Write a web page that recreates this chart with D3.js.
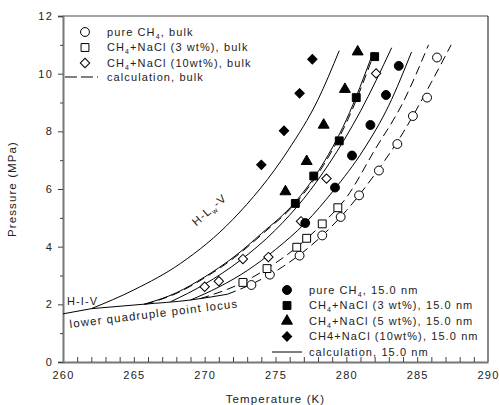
<!DOCTYPE html>
<html>
<head>
<meta charset="utf-8">
<script src="https://cdn.jsdelivr.net/npm/d3@7"></script>
<style>
  body { margin: 0; background: #fff; }
  svg { font-family: "Liberation Sans", Arial, sans-serif; }
  .tick text { font-size: 11px; letter-spacing: 1.2px; fill: #222; }
  .lbl { font-size: 11px; letter-spacing: 1.1px; fill: #222; }
</style>
</head>
<body>
<svg id="chart"></svg>
<script>
// axis ticks
const tempTicks = [260, 265, 270, 275, 280, 285, 290];
const presTicks = [0, 2, 4, 6, 8, 10, 12];

// measured points [T (K), P (MPa)]
const pureBulk = [[273.3, 2.67], [274.6, 3.03], [276.7, 3.69], [278.3, 4.39], [279.6, 5.03], [280.9, 5.78],
                  [282.3, 6.64], [283.6, 7.56], [284.7, 8.53], [285.7, 9.17], [286.4, 10.56]];
const nacl3Bulk = [[272.7, 2.76], [274.4, 3.24], [276.5, 3.98], [277.2, 4.29], [278.3, 4.79], [279.4, 5.35]];
const nacl10Bulk = [[270.0, 2.61], [271.0, 2.80], [272.7, 3.57], [274.5, 3.64], [276.8, 4.88], [278.6, 6.36], [282.1, 10.01]];
const pureNano = [[277.1, 4.82], [279.2, 6.05], [280.4, 7.16], [281.7, 8.22], [282.8, 9.26], [283.7, 10.27]];
const nacl3Nano = [[276.4, 5.50], [277.7, 6.45], [279.5, 7.67], [280.7, 9.17], [282.0, 10.59]];
const nacl5Nano = [[275.7, 5.91], [277.2, 6.96], [278.4, 8.22], [279.9, 9.46], [280.8, 10.76]];
const nacl10Nano = [[274.0, 6.84], [275.6, 8.02], [276.7, 9.32], [277.6, 10.50]];

// calculated curves, 15 nm (solid)
const calcNanoA = [[262.0, 1.85], [265.0, 2.5], [268.3, 3.42], [272.0, 4.95], [275.9, 7.35], [278.0, 9.1], [279.5, 10.8]];
const calcNanoB = [[265.7, 2.0], [268.0, 2.4], [270.0, 2.95], [272.0, 3.62], [274.0, 4.45], [276.4, 5.55], [278.0, 6.6], [280.0, 8.4], [281.9, 10.75]];
const calcNanoC = [[267.6, 2.09], [270.0, 2.7], [272.5, 3.52], [275.0, 4.58], [277.0, 5.67], [278.8, 6.89], [281.0, 8.7], [283.2, 10.9]];
const calcNanoD = [[269.0, 2.15], [271.0, 2.6], [273.0, 3.17], [275.0, 3.9], [277.1, 4.82], [279.1, 5.95], [281.2, 7.35], [283.0, 8.9], [284.6, 10.75]];
// calculated curves, bulk (dashed)
const calcBulk10 = [[265.8, 2.0], [268.1, 2.4], [270.1, 2.95], [272.1, 3.62], [274.1, 4.45], [276.5, 5.55], [278.1, 6.6], [280.1, 8.4], [282.0, 10.75]];
const calcBulk3 = [[269.7, 2.2], [272.7, 2.76], [274.4, 3.24], [276.5, 3.98], [278.3, 4.79], [280.0, 5.7], [282.0, 7.35], [284.0, 9.0], [285.8, 11.0]];
const calcBulkPure = [[271.6, 2.35], [273.4, 2.72], [275.5, 3.3], [278.0, 4.25], [280.0, 5.25], [282.0, 6.5], [284.0, 7.95], [286.0, 9.7], [287.4, 11.0]];
// phase boundaries
const hivLine = [[260.0, 1.67], [262.0, 1.85]];
const quadLocus = [[262.0, 1.85], [265.6, 2.0], [269.0, 2.15], [271.6, 2.35]];

const margin = { top: 16, right: 11, bottom: 43, left: 63 },
      width = 499 - margin.left - margin.right,
      height = 405 - margin.top - margin.bottom;

const svg = d3.select("#chart")
    .attr("width", 499)
    .attr("height", 405)
    .append("g")
    .attr("transform", `translate(${margin.left},${margin.top})`);

const x = d3.scaleLinear().domain([260, 290]).range([0, width]);
const y = d3.scaleLinear().domain([0, 12]).range([height, 0]);

// frame
svg.append("line").attr("x1", 0).attr("x2", width).attr("y1", 0).attr("y2", 0)
    .attr("stroke", "#888").attr("stroke-width", 1.5);
svg.append("line").attr("x1", width).attr("x2", width).attr("y1", 0).attr("y2", height)
    .attr("stroke", "#111").attr("stroke-width", 1);

// y axis
const yAxis = svg.append("g")
    .call(d3.axisLeft(y).tickValues(presTicks).tickSize(5).tickPadding(5));
svg.append("g")
    .call(d3.axisLeft(y).tickValues(d3.range(1, 12, 2)).tickSize(3).tickFormat(""))
    .select(".domain").remove();
yAxis.select(".domain").attr("stroke", "#777").attr("stroke-width", 2);

// x axis: labels below, ticks pointing inward
const xAxis = svg.append("g")
    .attr("transform", `translate(0,${height})`)
    .call(d3.axisBottom(x).tickValues(tempTicks).tickSize(0).tickPadding(9));
xAxis.select(".domain").attr("stroke", "#777").attr("stroke-width", 2);
svg.append("g")
    .attr("transform", `translate(0,${height})`)
    .call(d3.axisBottom(x).tickValues(d3.range(261, 290)).tickSize(-5).tickFormat(""))
    .select(".domain").remove();

svg.selectAll(".tick line").attr("stroke", "#444");

// axis titles
svg.append("text").attr("class", "lbl")
    .attr("x", width / 2).attr("y", height + 41)
    .attr("text-anchor", "middle")
    .style("font-size", "11.5px")
    .text("Temperature (K)");
svg.append("text").attr("class", "lbl")
    .attr("transform", `translate(-47,${y(6.0)}) rotate(-90)`)
    .attr("text-anchor", "middle")
    .style("font-size", "11.5px")
    .text("Pressure (MPa)");

// curves
const line = d3.line().x(d => x(d[0])).y(d => y(d[1])).curve(d3.curveMonotoneX);

[hivLine, quadLocus, calcNanoA, calcNanoB, calcNanoC, calcNanoD].forEach(c => {
    svg.append("path").attr("d", line(c))
        .attr("fill", "none").attr("stroke", "#000").attr("stroke-width", 1);
});
[calcBulk10, calcBulk3, calcBulkPure].forEach(c => {
    svg.append("path").attr("d", line(c))
        .attr("fill", "none").attr("stroke", "#000").attr("stroke-width", 1)
        .attr("stroke-dasharray", "9,5");
});

// symbols
const sym = {
    circle: d3.symbol().type(d3.symbolCircle).size(62),
    square: d3.symbol().type(d3.symbolSquare).size(62),
    triangle: d3.symbol().type(d3.symbolTriangle).size(52),
    diamond: d3.symbol().type(d3.symbolSquare).size(44)
};

const series = [
    { data: pureBulk, shape: "circle", filled: false },
    { data: nacl3Bulk, shape: "square", filled: false },
    { data: nacl10Bulk, shape: "diamond", filled: false },
    { data: pureNano, shape: "circle", filled: true },
    { data: nacl3Nano, shape: "square", filled: true },
    { data: nacl5Nano, shape: "triangle", filled: true },
    { data: nacl10Nano, shape: "diamond", filled: true }
];

function drawSym(g, shape, filled, px, py) {
    g.append("path")
        .attr("d", sym[shape]())
        .attr("transform", `translate(${px},${py})` + (shape === "diamond" ? " rotate(45)" : ""))
        .attr("fill", filled ? "#000" : "#fff")
        .attr("stroke", "#000")
        .attr("stroke-width", 1);
}

series.forEach(s => {
    s.data.forEach(d => drawSym(svg, s.shape, s.filled, x(d[0]), y(d[1])));
});

// legends
function legendText(g, tx, ty, parts) {
    const t = g.append("text").attr("class", "lbl").attr("x", tx).attr("y", ty).attr("dy", "0.35em");
    let down = false;
    parts.forEach(p => {
        if (p.sub) {
            t.append("tspan").attr("dy", 3).style("font-size", "7px").text(p.sub);
            down = true;
        } else {
            t.append("tspan").attr("dy", down ? -3 : null).text(p.t);
            down = false;
        }
    });
}

const legBulk = [
    { shape: "circle", parts: [{ t: "pure CH" }, { sub: "4" }, { t: ", bulk" }] },
    { shape: "square", parts: [{ t: "CH" }, { sub: "4" }, { t: "+NaCl (3 wt%), bulk" }] },
    { shape: "diamond", parts: [{ t: "CH" }, { sub: "4" }, { t: "+NaCl (10wt%), bulk" }] }
];
legBulk.forEach((l, i) => {
    const ly = 16 + i * 15.5;
    drawSym(svg, l.shape, false, 22, ly);
    legendText(svg, 44, ly, l.parts);
});
svg.append("line").attr("x1", 2).attr("x2", 35).attr("y1", 61).attr("y2", 61)
    .attr("stroke", "#000").attr("stroke-dasharray", "12,4");
legendText(svg, 44, 61, [{ t: "calculation, bulk" }]);

const legNano = [
    { shape: "circle", parts: [{ t: "pure CH" }, { sub: "4" }, { t: ", 15.0 nm" }] },
    { shape: "square", parts: [{ t: "CH" }, { sub: "4" }, { t: "+NaCl (3 wt%), 15.0 nm" }] },
    { shape: "triangle", parts: [{ t: "CH" }, { sub: "4" }, { t: "+NaCl (5 wt%), 15.0 nm" }] },
    { shape: "diamond", parts: [{ t: "CH4+NaCl (10wt%), 15.0 nm" }] }
];
legNano.forEach((l, i) => {
    const ly = 274 + i * 15.5;
    drawSym(svg, l.shape, true, 224, ly);
    legendText(svg, 246, ly, l.parts);
});
svg.append("line").attr("x1", 209).attr("x2", 239).attr("y1", 336).attr("y2", 336)
    .attr("stroke", "#000");
legendText(svg, 246, 336, [{ t: "calculation, 15.0 nm" }]);

// phase labels
svg.append("text").attr("class", "lbl")
    .attr("x", 4).attr("y", 289)
    .text("H-I-V");
svg.append("text").attr("class", "lbl")
    .attr("transform", `translate(${x(260.5)},${y(1.18)}) rotate(-7)`)
    .style("font-size", "11.5px")
    .text("lower quadruple point locus");
const hl = svg.append("text").attr("class", "lbl")
    .style("font-size", "11.5px")
    .attr("transform", `translate(${x(269.4)},${y(4.7)}) rotate(-41)`);
hl.append("tspan").text("H-L");
hl.append("tspan").attr("dy", 3).style("font-size", "7px").text("w");
hl.append("tspan").attr("dy", -3).text("-V");
</script>
</body>
</html>
